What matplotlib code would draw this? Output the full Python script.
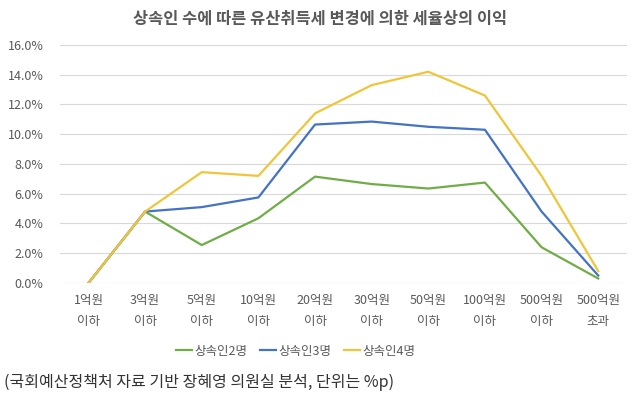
import matplotlib.pyplot as plt
import numpy as np

plt.rcParams['font.family'] = ['Noto Sans CJK KR', 'DejaVu Sans']

# 과세표준 구간
categories = ['1억원\n이하', '3억원\n이하', '5억원\n이하', '10억원\n이하', '20억원\n이하',
              '30억원\n이하', '50억원\n이하', '100억원\n이하', '500억원\n이하', '500억원\n초과']

# 세율상의 이익 (%)
heirs2 = [0.0, 4.8, 2.55, 4.35, 7.15, 6.65, 6.35, 6.75, 2.4, 0.3]
heirs3 = [0.0, 4.8, 5.1, 5.75, 10.65, 10.85, 10.5, 10.3, 4.8, 0.5]
heirs4 = [0.0, 4.8, 7.45, 7.2, 11.4, 13.3, 14.2, 12.6, 7.2, 0.8]

series_names = ['상속인2명', '상속인3명', '상속인4명']
colors = ['#70AD47', '#4472C4', '#F0C53A']

fig = plt.figure(figsize=(6.4, 3.98), dpi=100)
ax = fig.add_axes([0.094, 0.289, 0.885, 0.598])

x = np.arange(len(categories))
for vals, name, c in zip([heirs2, heirs3, heirs4], series_names, colors):
    ax.plot(x, np.array(vals) / 100, color=c, lw=1.6, label=name)

ax.set_xlim(-0.5, len(categories) - 0.5)
ax.set_ylim(0, 0.16)
ax.set_yticks(np.arange(0, 0.161, 0.02))
ax.set_yticklabels([f'{v*100:.1f}%' for v in np.arange(0, 0.161, 0.02)])
ax.set_xticks(x)
ax.set_xticklabels(categories, linespacing=1.75)
ax.tick_params(axis='both', length=0, labelsize=9, labelcolor='#595959')
ax.tick_params(axis='x', pad=8)
ax.tick_params(axis='y', pad=12)
ax.grid(axis='y', color='#D9D9D9', lw=0.8)
ax.set_axisbelow(True)
for s in ax.spines.values():
    s.set_visible(False)

fig.text(0.5, 0.953, '상속인 수에 따른 유산취득세 변경에 의한 세율상의 이익',
         ha='center', va='center', fontsize=11.8, fontweight='bold', color='#595959')

fig.legend(loc='center', bbox_to_anchor=(0.462, 0.118), ncol=3, frameon=False,
           fontsize=9, handlelength=1.3, handletextpad=0.2, columnspacing=1.0,
           labelcolor='#595959')

fig.text(0.006, 0.038, '(국회예산정책처 자료 기반 장혜영 의원실 분석, 단위는 %p)',
         ha='left', va='center', fontsize=11.5, color='#333333')

fig.savefig('out.png', dpi=100, facecolor='white')
